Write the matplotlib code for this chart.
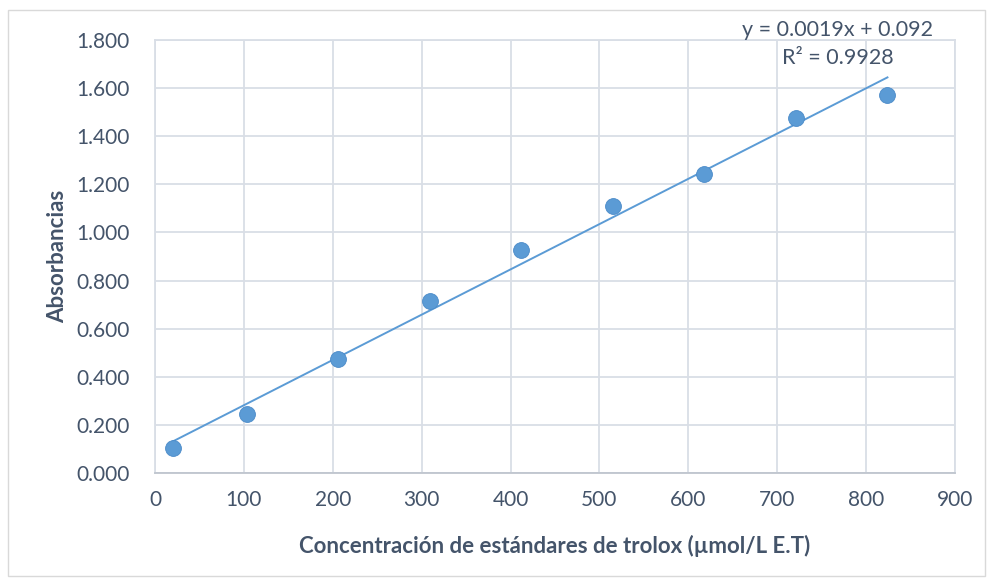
import matplotlib
matplotlib.use("Agg")
import matplotlib.pyplot as plt
from matplotlib.patches import Rectangle
import numpy as np

# data
conc = [20.6, 103, 206, 309, 412, 515, 618, 721, 824]
absorb = [0.106, 0.245, 0.472, 0.713, 0.928, 1.109, 1.242, 1.474, 1.571]
eq_text = "y = 0.0019x + 0.092"
r2_text = "R² = 0.9928"
xticks = np.arange(0, 901, 100)
yticks = np.arange(0, 1.81, 0.2)

txt = "#44546A"
grid = "#D9DEE6"
blue = "#5B9BD5"

plt.rcParams['font.family'] = ['Lato', 'DejaVu Sans']

fig = plt.figure(figsize=(9.92, 5.81), dpi=100)
fig.patches.append(Rectangle((8/992, 1-576/581), 977/992, 566/581, transform=fig.transFigure,
                             fill=False, edgecolor="#D9D9D9", linewidth=1))
ax = fig.add_axes([155/992, 1-473/581, 800/992, 433/581])

ax.set_xlim(0, 900)
ax.set_ylim(0, 1.8)
ax.set_xticks(xticks)
ax.set_yticks(yticks)
ax.set_yticklabels([f"{v:.3f}" for v in yticks])
ax.grid(True, color=grid, linewidth=1.3)
ax.set_axisbelow(True)
for s in ['top', 'right', 'left']:
    ax.spines[s].set_color(grid)
    ax.spines[s].set_linewidth(1.3)
ax.spines['bottom'].set_color("#BFC5CE")
ax.spines['bottom'].set_linewidth(1.3)
ax.tick_params(length=0, labelsize=15, colors=txt)
ax.tick_params(axis='y', pad=18)
ax.tick_params(axis='x', pad=12)

# linear trendline
m, b = np.polyfit(conc, absorb, 1)
xl = np.array([conc[0], conc[-1]])
ax.plot(xl, m*xl + b, color=blue, linewidth=1.4, zorder=2)

ax.scatter(conc, absorb, s=130, color=blue, edgecolor="#4A8AC8", linewidth=0.6, zorder=3)

ax.text(838/992, 1-30/581, eq_text, transform=fig.transFigure, ha='center', va='center',
        fontsize=15.5, color=txt)
ax.text(838/992, 1-58/581, r2_text, transform=fig.transFigure, ha='center', va='center',
        fontsize=15.5, color=txt)

ax.set_xlabel("Concentración de estándares de trolox (µmol/L E.T)", fontsize=16,
              fontweight='bold', color=txt, labelpad=18)
ax.set_ylabel("Absorbancias", fontsize=16, fontweight='bold', color=txt, labelpad=6)

fig.savefig("out.png", dpi=100)
